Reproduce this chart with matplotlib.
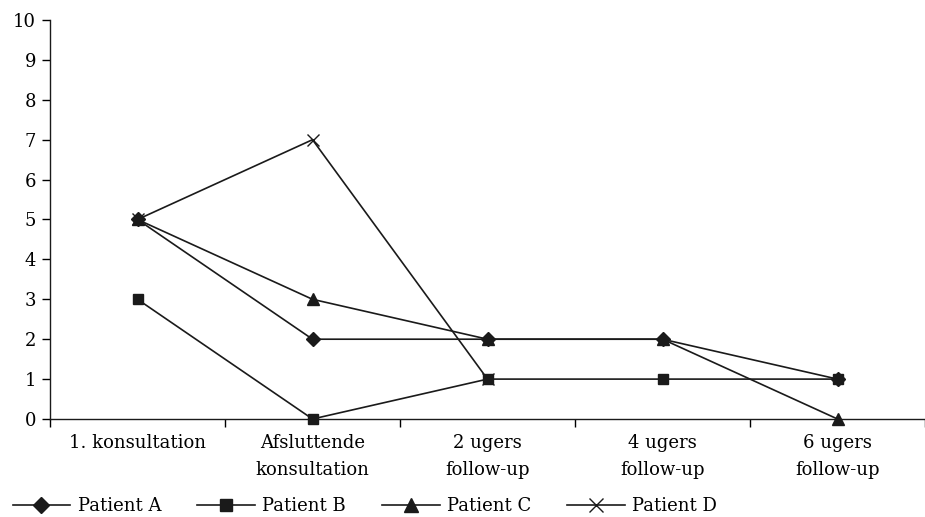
import matplotlib
matplotlib.use("Agg")
import matplotlib.pyplot as plt
import numpy as np

categories = ["1. konsultation", "Afsluttende\nkonsultation", "2 ugers\nfollow-up",
              "4 ugers\nfollow-up", "6 ugers\nfollow-up"]
patient_a = [5, 2, 2, 2, 1]
patient_b = [3, 0, 1, 1, 1]
patient_c = [5, 3, 2, 2, 0]
patient_d = [5, 7, 1, np.nan, np.nan]
series_names = ["Patient A", "Patient B", "Patient C", "Patient D"]
y_ticks = list(range(0, 11))

plt.rcParams['font.family'] = ['DejaVu Serif']

fig = plt.figure(figsize=(9.25, 5.17), dpi=100)
ax = fig.add_axes([50/925, 1-419/517, 1-50/925, (419-20)/517])

x = np.arange(len(categories))
styles = [dict(marker='D', markersize=7),
          dict(marker='s', markersize=7),
          dict(marker='^', markersize=9),
          dict(marker='x', markersize=9, markeredgewidth=1.0)]
for vals, name, st in zip([patient_a, patient_b, patient_c, patient_d], series_names, styles):
    ax.plot(x, vals, color='#1a1a1a', linewidth=1.2, label=name, clip_on=False, **st)

ax.set_xlim(-0.5, len(categories) - 0.5)
ax.set_ylim(0, 10)
ax.set_yticks(y_ticks)
ax.set_xticks(x)
ax.set_xticklabels(categories, fontsize=13, linespacing=1.6)
ax.set_xticks(np.arange(-0.5, len(categories) - 0.4, 1), minor=True)
ax.tick_params(axis='x', which='major', length=0, pad=11)
ax.tick_params(axis='x', which='minor', length=6, direction='out', width=1)
ax.tick_params(axis='y', labelsize=13, length=6, direction='out', width=1, pad=4)
for s in ['top', 'right']:
    ax.spines[s].set_visible(False)
for s in ['left', 'bottom']:
    ax.spines[s].set_linewidth(1.0)
    ax.spines[s].set_color('#1a1a1a')

fig.legend(loc='lower left', bbox_to_anchor=(-0.004, -0.028), ncol=4, frameon=False,
           fontsize=13, handlelength=3.2, handletextpad=0.4, columnspacing=2.0,
           markerscale=1.15)

fig.savefig("out.png", dpi=100)
